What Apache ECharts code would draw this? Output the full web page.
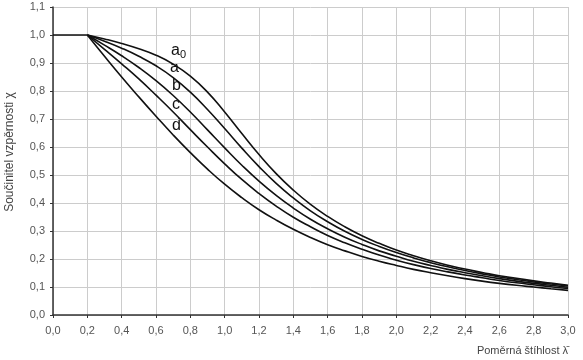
<!DOCTYPE html>
<html><head><meta charset="utf-8">
<script src="https://cdn.jsdelivr.net/npm/echarts@6/dist/echarts.min.js"></script>
<style>html,body{margin:0;padding:0;background:#fff}#c{width:583px;height:360px}</style>
</head><body><div id="c"></div>
<script>
const plateauX = [0.0,0.1,0.2];
const plateauY = [1,1,1];
const lambdas = [0.2,0.3,0.4,0.5,0.6,0.7,0.8,0.9,1.0,1.1,1.2,1.3,1.4,1.5,1.6,1.7,1.8,1.9,2.0,2.1,2.2,2.3,2.4,2.5,2.6,2.7,2.8,2.9,3.0];
const curveA0 = [1,0.986,0.970,0.951,0.928,0.896,0.853,0.796,0.725,0.648,0.573,0.505,0.446,0.395,0.352,0.315,0.283,0.256,0.232,0.212,0.194,0.178,0.164,0.152,0.140,0.131,0.122,0.114,0.106];
const curveA  = [1,0.978,0.953,0.924,0.890,0.848,0.796,0.734,0.666,0.596,0.530,0.470,0.418,0.372,0.333,0.299,0.270,0.245,0.223,0.204,0.187,0.172,0.159,0.147,0.136,0.127,0.118,0.111,0.104];
const curveB  = [1,0.964,0.926,0.884,0.837,0.784,0.725,0.661,0.597,0.535,0.478,0.427,0.382,0.342,0.308,0.278,0.252,0.229,0.210,0.192,0.177,0.163,0.151,0.140,0.130,0.121,0.113,0.106,0.099];
const curveC  = [1,0.949,0.897,0.843,0.785,0.725,0.662,0.600,0.540,0.484,0.434,0.389,0.349,0.315,0.284,0.258,0.235,0.214,0.196,0.180,0.166,0.154,0.143,0.133,0.123,0.115,0.108,0.101,0.095];
const curveD  = [1,0.924,0.850,0.779,0.710,0.643,0.580,0.521,0.467,0.419,0.376,0.339,0.306,0.277,0.251,0.229,0.209,0.192,0.177,0.163,0.151,0.140,0.130,0.121,0.113,0.106,0.100,0.094,0.088];
const curveNames = ['a0','a','b','c','d'];
const curves = [curveA0, curveA, curveB, curveC, curveD];

const chart = echarts.init(document.getElementById('c'));
const fmt = v => v.toFixed(1).replace('.', ',');
const lineStyle = {color: '#111', width: 1.6};
const series = curves.map((c, i) => ({
  type: 'line', name: curveNames[i], smooth: 0.5, showSymbol: false,
  lineStyle: lineStyle,
  data: lambdas.map((x, j) => [x, c[j]])
}));
series.push({type: 'line', name: 'plateau', showSymbol: false, lineStyle: lineStyle,
  data: plateauX.map((x, j) => [x, plateauY[j]])});
chart.setOption({
  animation: false,
  grid: {left: 53, right: 15, top: 7, bottom: 45},
  xAxis: {
    type: 'value', min: 0, max: 3, interval: 0.2,
    axisLine: {lineStyle: {color: '#333', width: 1.5}},
    axisTick: {show: true, length: 3, lineStyle: {color: '#333'}},
    axisLabel: {formatter: fmt, color: '#555', fontFamily: 'Liberation Sans', fontSize: 11, margin: 10},
    splitLine: {show: true, lineStyle: {color: '#ccc', width: 1}},
    name: 'Poměrná štíhlost λ̄', nameLocation: 'end', nameGap: 0,
    nameTextStyle: {color: '#444', fontFamily: 'Liberation Sans', fontSize: 11, align: 'right', verticalAlign: 'top', padding: [30, 0, 0, 0]}
  },
  yAxis: {
    type: 'value', min: 0, max: 1.1, interval: 0.1,
    axisLine: {show: true, lineStyle: {color: '#333', width: 1.5}},
    axisTick: {show: true, length: 3, lineStyle: {color: '#333'}},
    axisLabel: {formatter: fmt, color: '#555', fontFamily: 'Liberation Sans', fontSize: 11, margin: 8},
    splitLine: {show: true, lineStyle: {color: '#ccc', width: 1}}
  },
  series: series,
  graphic: [
    {type: 'text', x: 10, y: 152, rotation: Math.PI / 2, style: {text: 'Součinitel vzpěrnosti χ', fontSize: 12, fontFamily: 'Liberation Sans', fill: '#444', align: 'center', verticalAlign: 'middle'}},
    {type: 'text', left: 171, top: 43, style: {text: '{m|a}{s|0}', rich: {m: {fontSize: 16, fontFamily: 'Liberation Sans', fill: '#111'}, s: {fontSize: 11, fontFamily: 'Liberation Sans', fill: '#111', verticalAlign: 'bottom', padding: [8,0,0,0]}}}},
    {type: 'text', left: 170, top: 60, style: {text: 'a', fontSize: 16, fontFamily: 'Liberation Sans', fill: '#111'}},
    {type: 'text', left: 172, top: 78, style: {text: 'b', fontSize: 16, fontFamily: 'Liberation Sans', fill: '#111'}},
    {type: 'text', left: 172, top: 97, style: {text: 'c', fontSize: 16, fontFamily: 'Liberation Sans', fill: '#111'}},
    {type: 'text', left: 172, top: 118, style: {text: 'd', fontSize: 16, fontFamily: 'Liberation Sans', fill: '#111'}}
  ]
});
</script></body></html>
